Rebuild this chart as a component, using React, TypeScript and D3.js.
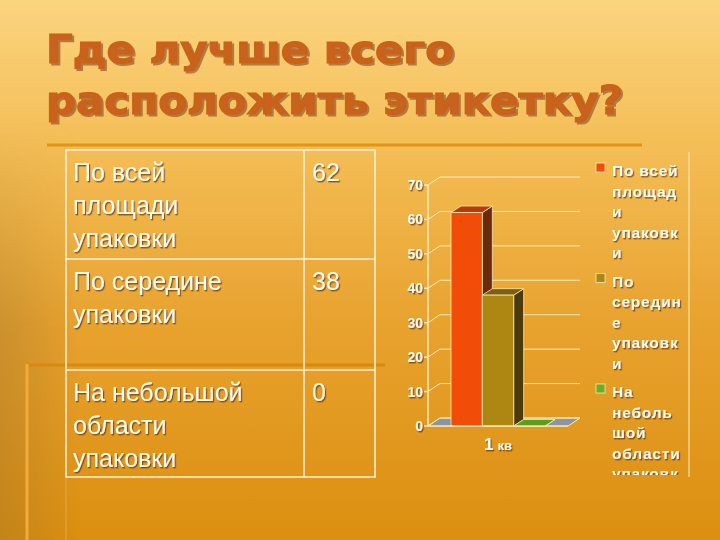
import React from "react";
import * as d3 from "d3";

// chart data
const categories = ["1 кв"];
const seriesNames = [
  "По всей площади упаковки",
  "По середине упаковки",
  "На небольшой области упаковки",
];
const seriesValues = [62, 38, 0];
const yTicks = [0, 10, 20, 30, 40, 50, 60, 70];
const legendLines = [
  ["По всей", "площад", "и", "упаковк", "и"],
  ["По", "середин", "е", "упаковк", "и"],
  ["На", "неболь", "шой", "области", "упаковк", "и"],
];
const titleLines = ["Где лучше всего", "расположить этикетку?"];

const faceColors = [
  { front: "#f24d08", top: "#b53b0c", side: "#6a2a0c" },
  { front: "#ae8712", top: "#7a6010", side: "#4a3a0c" },
  { front: "#6cae20", top: "#5c9e1c", side: "#3a6a10" },
];

const W = 720;
const H = 540;

// simple word wrap for table cells
function wrap(text: string, maxChars: number) {
  const words = text.split(" ");
  const lines: string[] = [];
  let cur = "";
  words.forEach((w) => {
    const next = cur ? cur + " " + w : w;
    if (next.length > maxChars && cur) {
      lines.push(cur);
      cur = w;
    } else cur = next;
  });
  if (cur) lines.push(cur);
  return lines;
}

function ShadowText({ x, y, children, size, weight = "normal", anchor = "start", fill = "#fffaf0", style }: any) {
  return (
    <text x={x} y={y} fontSize={size} fontWeight={weight} textAnchor={anchor} fill={fill} style={style} filter="url(#txtShadow)">
      {children}
    </text>
  );
}

export default function App() {
  // table
  const tableX = [66, 304, 375];
  const rowEdges = [150, 259, 370, 477];

  // 3d column chart
  const y = d3.scaleLinear().domain([0, 70]).range([426, 185]);
  const x0 = d3.scaleBand().domain(categories).range([428, 568]).paddingOuter(0.245).paddingInner(0);
  const x1 = d3.scaleBand().domain(seriesNames).range([0, x0.bandwidth()]);
  const wdx = 12, wdy = -8; // wall depth
  const bdx = 10, bdy = -6.5; // bar depth
  const [px0, px1] = x0.range();
  const y0 = y(0);

  const legendTop = 176;
  const lineStep = 20.5;
  const itemStep = 110.5;

  return (
    <svg width={W} height={H} style={{ position: "fixed", left: 0, top: 0 }} fontFamily="'Liberation Sans', Arial, sans-serif">
      <defs>
        <linearGradient id="bg" x1="0" y1="0" x2="0" y2="1">
          <stop offset="0" stopColor="#fbd47e" />
          <stop offset="0.3" stopColor="#f3bb52" />
          <stop offset="0.6" stopColor="#e8a22e" />
          <stop offset="1" stopColor="#dc8f10" />
        </linearGradient>
        <linearGradient id="leftShade" x1="0" y1="0" x2="1" y2="0">
          <stop offset="0" stopColor="#8a6a30" stopOpacity="0.3" />
          <stop offset="1" stopColor="#8a6a30" stopOpacity="0" />
        </linearGradient>
        <linearGradient id="fadeV" x1="0" y1="0" x2="0" y2="1">
          <stop offset="0" stopColor="#fff" stopOpacity="0" />
          <stop offset="0.5" stopColor="#fff" stopOpacity="1" />
          <stop offset="1" stopColor="#fff" stopOpacity="1" />
        </linearGradient>
        <mask id="leftMask">
          <rect x={0} y={120} width={80} height={420} fill="url(#fadeV)" />
        </mask>
        <filter id="txtShadow" x="-10%" y="-20%" width="130%" height="150%">
          <feDropShadow dx={1.2} dy={1.4} stdDeviation={0.3} floodColor="#5a3a12" floodOpacity={0.75} />
        </filter>
        <filter id="titleShadow" x="-5%" y="-20%" width="115%" height="150%">
          <feDropShadow dx={2} dy={2} stdDeviation={0.4} floodColor="#9a6230" floodOpacity={0.75} />
        </filter>
        <clipPath id="legendClip">
          <rect x={590} y={150} width={100} height={325} />
        </clipPath>
      </defs>
      <rect width={W} height={H} fill="url(#bg)" />
      <rect x={0} y={120} width={80} height={420} fill="url(#leftShade)" mask="url(#leftMask)" />

      {/* decorative lines */}
      <line x1={47} x2={642} y1={145} y2={145} stroke="#e39415" strokeWidth={3} />
      <line x1={25} x2={385} y1={365} y2={365} stroke="#d58a12" strokeWidth={3} />
      <line x1={27} x2={27} y1={364} y2={H} stroke="#f2aa3a" strokeWidth={3} />
      <line x1={66} x2={66} y1={477} y2={H} stroke="#eea235" strokeWidth={2} opacity={0.6} />

      {/* title */}
      {titleLines.map((t, i) => (
        <text
          key={t}
          x={46}
          y={63 + i * 51}
          fontFamily="'DejaVu Sans', sans-serif"
          fontWeight="bold"
          fontSize={39}
          fill="#c8621a"
          stroke="#c8621a"
          strokeWidth={1.2}
          textLength={i === 0 ? 408 : 577}
          lengthAdjust="spacingAndGlyphs"
          filter="url(#titleShadow)"
        >
          {t}
        </text>
      ))}

      {/* table */}
      <g stroke="#fff3d6" strokeWidth={1.5} fill="none">
        <rect x={tableX[0]} y={rowEdges[0]} width={tableX[2] - tableX[0]} height={rowEdges[3] - rowEdges[0]} />
        <line x1={tableX[1]} x2={tableX[1]} y1={rowEdges[0]} y2={rowEdges[3]} />
        {rowEdges.slice(1, 3).map((r) => (
          <line key={r} x1={tableX[0]} x2={tableX[2]} y1={r} y2={r} />
        ))}
      </g>
      {seriesNames.map((name, i) => (
        <g key={name}>
          {wrap(name, 12).map((ln, j) => (
            <ShadowText key={j} x={73} y={rowEdges[i] + 31 + j * 33} size={25}>{ln}</ShadowText>
          ))}
          <ShadowText x={312} y={rowEdges[i] + 31} size={25}>{seriesValues[i]}</ShadowText>
        </g>
      ))}

      {/* floor */}
      <polygon
        points={`${px0},${y0} ${px0 + wdx},${y0 + wdy} ${px1 + wdx},${y0 + wdy} ${px1},${y0}`}
        fill="#8a94a6"
        stroke="#fbeeb8"
        strokeWidth={1}
      />
      {/* gridlines */}
      <g stroke="#fbeeb8" strokeWidth={1} fill="none">
        {yTicks.map((t) => (
          <path key={t} d={`M${px0},${y(t)}L${px0 + wdx},${y(t) + wdy}L${px1 + wdx},${y(t) + wdy}`} />
        ))}
      </g>
      {/* axis */}
      <g stroke="#fbeeb8" strokeWidth={1.5}>
        <line x1={px0} x2={px0} y1={y(0)} y2={y(70)} />
        {yTicks.map((t) => (
          <line key={t} x1={px0 - 4} x2={px0} y1={y(t)} y2={y(t)} />
        ))}
      </g>
      {yTicks.map((t) => (
        <ShadowText key={t} x={423} y={y(t) + 5} size={14} weight="bold" anchor="end">{t}</ShadowText>
      ))}

      {/* bars */}
      {categories.map((c) =>
        seriesNames.map((s, i) => {
          const bx = (x0(c) ?? 0) + (x1(s) ?? 0);
          const bw = x1.bandwidth();
          const top = y(seriesValues[i]);
          const col = faceColors[i];
          return (
            <g key={s} stroke="#fbe9b4" strokeWidth={0.8} strokeLinejoin="round">
              <polygon
                points={`${bx + bw},${top} ${bx + bw + bdx},${top + bdy} ${bx + bw + bdx},${y0 + bdy} ${bx + bw},${y0}`}
                fill={col.side}
              />
              <polygon
                points={`${bx},${top} ${bx + bdx},${top + bdy} ${bx + bw + bdx},${top + bdy} ${bx + bw},${top}`}
                fill={col.top}
              />
              {y0 - top > 0 && <rect x={bx} y={top} width={bw} height={y0 - top} fill={col.front} />}
            </g>
          );
        })
      )}
      <line x1={px0} x2={px1} y1={y0} y2={y0} stroke="#fbeeb8" strokeWidth={1.2} />

      {/* category label */}
      {categories.map((c) => {
        const [num, rest] = c.split(" ");
        const cx = (x0(c) ?? 0) + x0.bandwidth() / 2;
        return (
          <text key={c} x={cx} y={450} textAnchor="middle" fill="#fffaf0" fontWeight="bold" filter="url(#txtShadow)">
            <tspan fontSize={17}>{num}</tspan>
            <tspan fontSize={13} dx={4}>{rest}</tspan>
          </text>
        );
      })}

      {/* legend */}
      <g clipPath="url(#legendClip)">
        {legendLines.map((lines, i) => {
          const ly = legendTop + i * itemStep;
          return (
            <g key={i}>
              <rect x={596} y={ly - 13} width={9} height={9} fill={faceColors[i].front} stroke="#fbe9b4" strokeWidth={0.8} />
              {lines.map((ln, j) => (
                <ShadowText key={j} x={612} y={ly + j * lineStep} size={15.5} weight="bold" style={{ letterSpacing: "0.8px" }}>
                  {ln}
                </ShadowText>
              ))}
            </g>
          );
        })}
      </g>
      <line x1={689} x2={689} y1={152} y2={477} stroke="#fbeeb8" strokeWidth={1} />
    </svg>
  );
}
